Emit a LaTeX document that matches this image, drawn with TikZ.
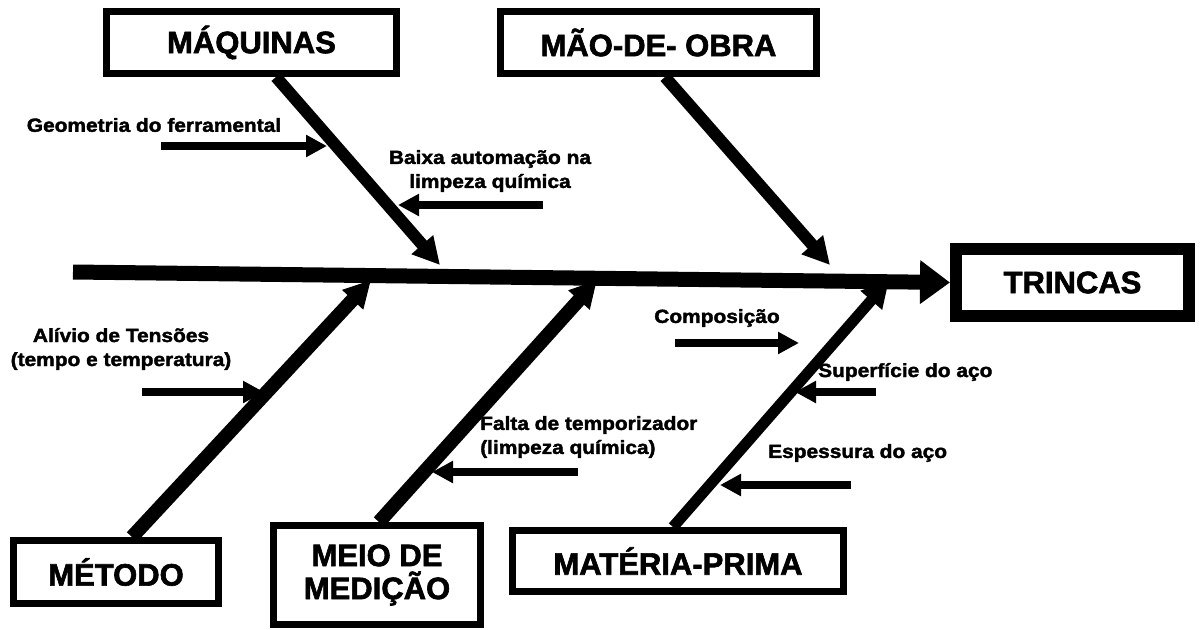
\documentclass[tikz,border=0pt]{standalone}
\usepackage{fontspec}
\setmainfont{Liberation Sans}
\newfontfamily\heavy{Liberation Sans Bold}[FakeBold=2]
\newfontfamily\heavylbl{Liberation Sans Bold}[FakeBold=2,FakeStretch=1.1]
\usetikzlibrary{arrows.meta}
\begin{document}
\begin{tikzpicture}[x=1pt,y=-1pt,
  cat/.style={draw,line width=7pt,font=\fontsize{31}{31}\selectfont\heavy,inner sep=0pt,align=center},
  lbl/.style={font=\fontsize{19}{24}\selectfont\heavylbl,inner sep=0pt},
  bone/.style={line width=12pt,-{Triangle[length=27pt,width=27pt]}},
  sub/.style={line width=8pt,-{Triangle[length=21pt,width=21pt]}}]
\useasboundingbox (0,0) rectangle (1201,629);
% boxes
\node[cat,minimum width=290pt,minimum height=62pt] (maq) at (251.5,42.5) {MÁQUINAS};
\node[cat,minimum width=316pt,minimum height=62pt] (mao) at (658.5,42.5) {MÃO-DE- OBRA};
\node[cat,line width=12pt,minimum width=233pt,minimum height=67pt] (tri) at (1072.5,282.5) {TRINCAS};
\node[cat,minimum width=205pt,minimum height=63pt] (met) at (116,572) {MÉTODO};
\node[cat,minimum width=207pt,minimum height=99pt] (mei) at (377,575) {MEIO DE\\[2pt]MEDIÇÃO};
\node[cat,minimum width=331pt,minimum height=61pt] (mat) at (678,561) {MATÉRIA-PRIMA};
% spine
\coordinate (s0) at (73,272);
\draw[line width=15pt,-{Triangle[length=30pt,width=42pt]}] (s0) -- (tri.west);
% bone coordinates
\coordinate (maqS) at (276,77);   \coordinate (maqT) at (440,265);
\coordinate (maoS) at (665,77);   \coordinate (maoT) at (830,265);
\coordinate (metS) at (132,537);  \coordinate (metT) at (371,280);
\coordinate (meiS) at (379,522);  \coordinate (meiT) at (597,280);
\coordinate (matS) at (673,527);  \coordinate (matT) at (889,280);
\draw[bone] (maqS) -- (maqT);
\draw[bone] (maoS) -- (maoT);
\draw[bone,line width=14pt] (metS) -- (metT);
\draw[bone,line width=14pt] (meiS) -- (meiT);
\draw[bone,line width=11pt] (matS) -- (matT);
% sub causes
\node[lbl] (geo) at (154,125) {Geometria do ferramental};
\coordinate (geo0) at (161,146); \coordinate (geo1) at (327,146);
\draw[sub] (geo0) -- (geo1);
\node[lbl,align=center] (bai) at (490,171) {Baixa automação na\\limpeza química};
\coordinate (bai0) at (543,205); \coordinate (bai1) at (398,205);
\draw[sub] (bai0) -- (bai1);
\node[lbl,align=center] (alv) at (121,349) {Alívio de Tensões\\(tempo e temperatura)};
\coordinate (alv0) at (142,392); \coordinate (alv1) at (264,392);
\draw[sub] (alv0) -- (alv1);
\node[lbl,align=left,anchor=west] (fal) at (480,437) {Falta de temporizador\\(limpeza química)};
\coordinate (fal0) at (578,472); \coordinate (fal1) at (432,472);
\draw[sub] (fal0) -- (fal1);
\node[lbl] (com) at (717,318) {Composição};
\coordinate (com0) at (675,343); \coordinate (com1) at (799,343);
\draw[sub] (com0) -- (com1);
\node[lbl,anchor=west] (sup) at (818,372) {Superfície do aço};
\coordinate (sup0) at (876,392); \coordinate (sup1) at (795,392);
\draw[sub] (sup0) -- (sup1);
\node[lbl,anchor=west] (esp) at (768,453) {Espessura do aço};
\coordinate (esp0) at (851,485); \coordinate (esp1) at (720,485);
\draw[sub] (esp0) -- (esp1);
\end{tikzpicture}
\end{document}
